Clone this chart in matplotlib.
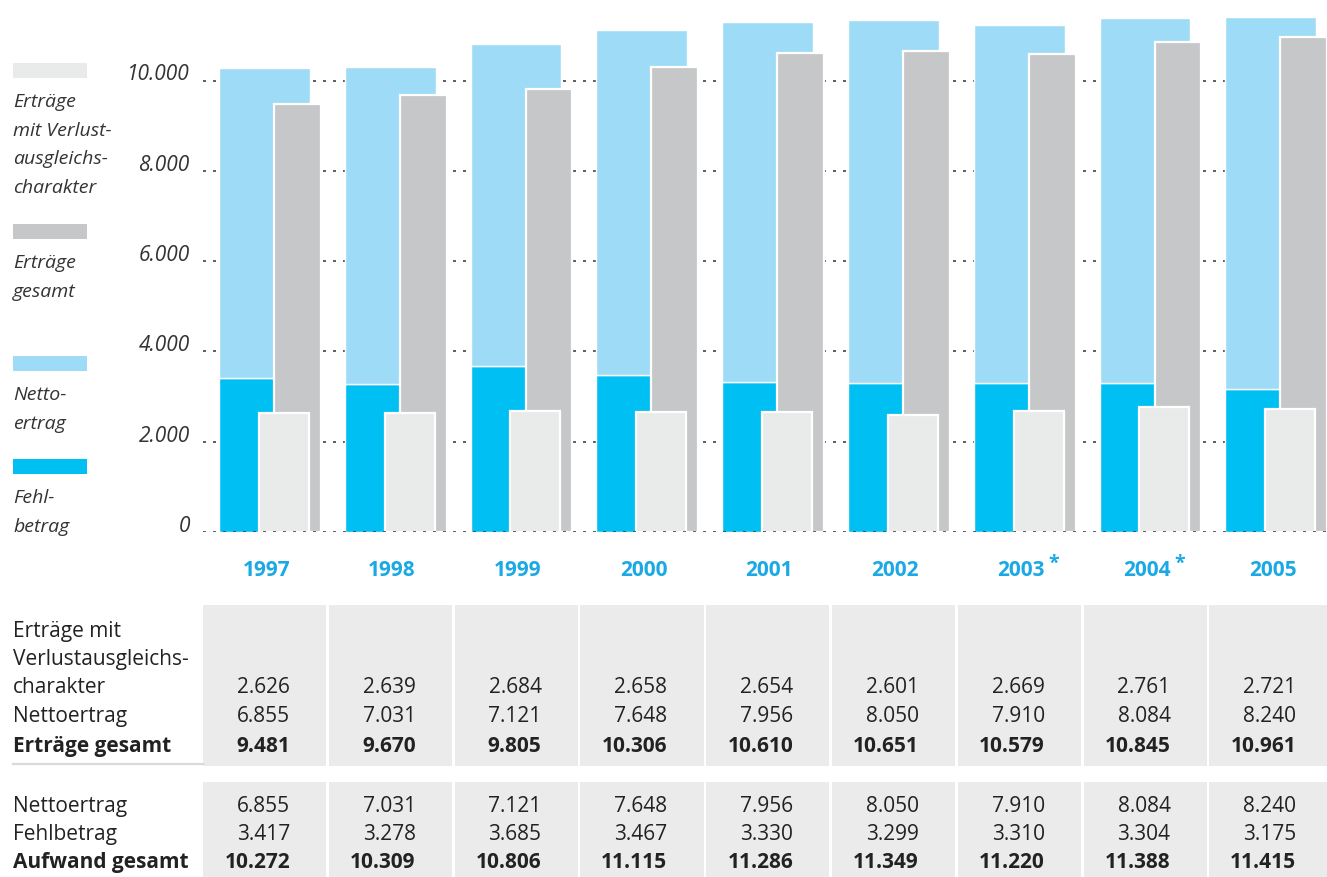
import matplotlib
matplotlib.use("Agg")
import matplotlib.pyplot as plt
from matplotlib.patches import Rectangle
from matplotlib import transforms

plt.rcParams["font.family"] = ["Open Sans", "DejaVu Sans"]

# --- Daten ---
jahre = ["1997", "1998", "1999", "2000", "2001", "2002", "2003", "2004", "2005"]
sternchen = ["", "", "", "", "", "", "*", "*", ""]
verlustausgleich = [2626, 2639, 2684, 2658, 2654, 2601, 2669, 2761, 2721]
nettoertrag = [6855, 7031, 7121, 7648, 7956, 8050, 7910, 8084, 8240]
ertraege_gesamt = [9481, 9670, 9805, 10306, 10610, 10651, 10579, 10845, 10961]
fehlbetrag = [3417, 3278, 3685, 3467, 3330, 3299, 3310, 3304, 3175]
aufwand_gesamt = [10272, 10309, 10806, 11115, 11286, 11349, 11220, 11388, 11415]

y_ticks = [0, 2000, 4000, 6000, 8000, 10000]

legende = [
    ("Erträge\nmit Verlust-\nausgleichs-\ncharakter", "#E9EBEA"),
    ("Erträge\ngesamt", "#C6C7C9"),
    ("Netto-\nertrag", "#9EDBF7"),
    ("Fehl-\nbetrag", "#00C0F3"),
]

zeilen_oben = [
    ("Erträge mit", None, False),
    ("Verlustausgleichs-", None, False),
    ("charakter", verlustausgleich, False),
    ("Nettoertrag", nettoertrag, False),
    ("Erträge gesamt", ertraege_gesamt, True),
]
zeilen_unten = [
    ("Nettoertrag", nettoertrag, False),
    ("Fehlbetrag", fehlbetrag, False),
    ("Aufwand gesamt", aufwand_gesamt, True),
]

# --- Farben ---
c_hellblau = "#9EDBF7"
c_blau = "#00C0F3"
c_grau = "#C6C7C9"
c_hellgrau = "#E9EBEA"
c_tabelle = "#EBEBEB"
c_jahr = "#1AA9E4"
c_text = "#222222"


def de(v):
    return f"{v:,}".replace(",", ".")


W, H = 1327, 877
fig = plt.figure(figsize=(W / 100, H / 100), dpi=100)

# pixel geometry
px_einheit = 125.8          # px per Jahr
x0_px = 219                 # linke Kante erster Balken
ax_links = 203
null_px = 532
px_pro_1000 = 45.15

xlim = ((ax_links - x0_px) / px_einheit, (W - x0_px) / px_einheit)

ax = fig.add_axes([ax_links / W, (H - null_px) / H, (W - ax_links) / W, null_px / H])
ax.set_xlim(*xlim)
ax.set_ylim(0, null_px / px_pro_1000 * 1000)
for s in ax.spines.values():
    s.set_visible(False)
ax.set_xticks([])
ax.set_yticks(y_ticks)
ax.set_yticklabels([de(v) for v in y_ticks], fontstyle="italic", fontsize=15, color="#333333")
ax.tick_params(axis="y", length=0, pad=9.5)
for lab in ax.get_yticklabels():
    lab.set_verticalalignment("baseline")

for t in y_ticks:
    ax.axhline(t, color="#444444", lw=1.2, linestyle=(0, (1.8, 4.2)),
               zorder=6 if t == 0 else 0)

pos = list(range(len(jahre)))
x_blau = [p for p in pos]
x_grau = [p + 0.437 for p in pos]
x_hell = [p + 0.317 for p in pos]

ax.bar(x_blau, fehlbetrag, width=0.722, align="edge", color=c_blau,
       edgecolor="white", linewidth=1, zorder=1)
ax.bar(x_blau, nettoertrag, bottom=fehlbetrag, width=0.722, align="edge",
       color=c_hellblau, edgecolor="white", linewidth=1, zorder=1)
ax.bar(x_grau, ertraege_gesamt, width=0.373, align="edge", color=c_grau,
       edgecolor="white", linewidth=1.6, zorder=2)
ax.bar(x_hell, verlustausgleich, width=0.397, align="edge", color=c_hellgrau,
       edgecolor="white", linewidth=1.6, zorder=3)

# Jahreszahlen
jahr_y = (null_px - 576) / null_px
for p, j, st in zip(pos, jahre, sternchen):
    ax.text(p + 0.564, jahr_y, j, transform=ax.get_xaxis_transform(), ha="right",
            va="baseline", fontsize=15, fontweight="bold", color=c_jahr)
    if st:
        ax.text(p + 0.564 + 4 / px_einheit, (null_px - 569) / null_px, st,
                transform=ax.get_xaxis_transform(), ha="left", va="baseline",
                fontsize=14, fontweight="bold", color=c_jahr)

# Legende links
leg_oben = [63, 224, 356, 459]
for (txt, col), top in zip(legende, leg_oben):
    fig.add_artist(Rectangle((13 / W, 1 - (top + 15) / H), 74 / W, 15 / H,
                             transform=fig.transFigure, color=col, lw=0))
    for k, zeile in enumerate(txt.split("\n")):
        base = top + 44 + k * 28.6
        fig.text(13 / W, 1 - base / H, zeile, ha="left", va="baseline",
                 fontsize=14, fontstyle="italic", color="#333333")

# --- Tabelle ---
tab_oben = 605
axt = fig.add_axes([ax_links / W, 0, (W - ax_links) / W, (H - tab_oben) / H])
axt.set_xlim(*xlim)
axt.set_ylim(H, tab_oben)
axt.axis("off")

spalte_start = (ax_links - x0_px) / px_einheit
for p in pos:
    axt.add_patch(Rectangle((p + spalte_start, 605), 0.98, 161, color=c_tabelle, lw=0))
    axt.add_patch(Rectangle((p + spalte_start, 782), 0.98, 100, color=c_tabelle, lw=0))

links = transforms.blended_transform_factory(axt.transAxes, axt.transData)
lab_x = (13 - ax_links) / (W - ax_links)
axt.plot([lab_x, 0], [764, 764], transform=links, color="#D9D9D9", lw=1.6,
         clip_on=False)

basis_oben = [637, 665, 693, 722, 752]
basis_unten = [812, 840, 868]
for zeilen, basen in ((zeilen_oben, basis_oben), (zeilen_unten, basis_unten)):
    for (name, werte, fett), b in zip(zeilen, basen):
        gew = "bold" if fett else "normal"
        axt.text(lab_x, b, name, transform=links, ha="left", va="baseline",
                 fontsize=15, fontweight=gew, color=c_text)
        if werte is None:
            continue
        for p, v in zip(pos, werte):
            axt.text(p + 0.564, b, de(v), ha="right", va="baseline",
                     fontsize=15, fontweight=gew, color=c_text)

fig.savefig("out.png", dpi=100)
